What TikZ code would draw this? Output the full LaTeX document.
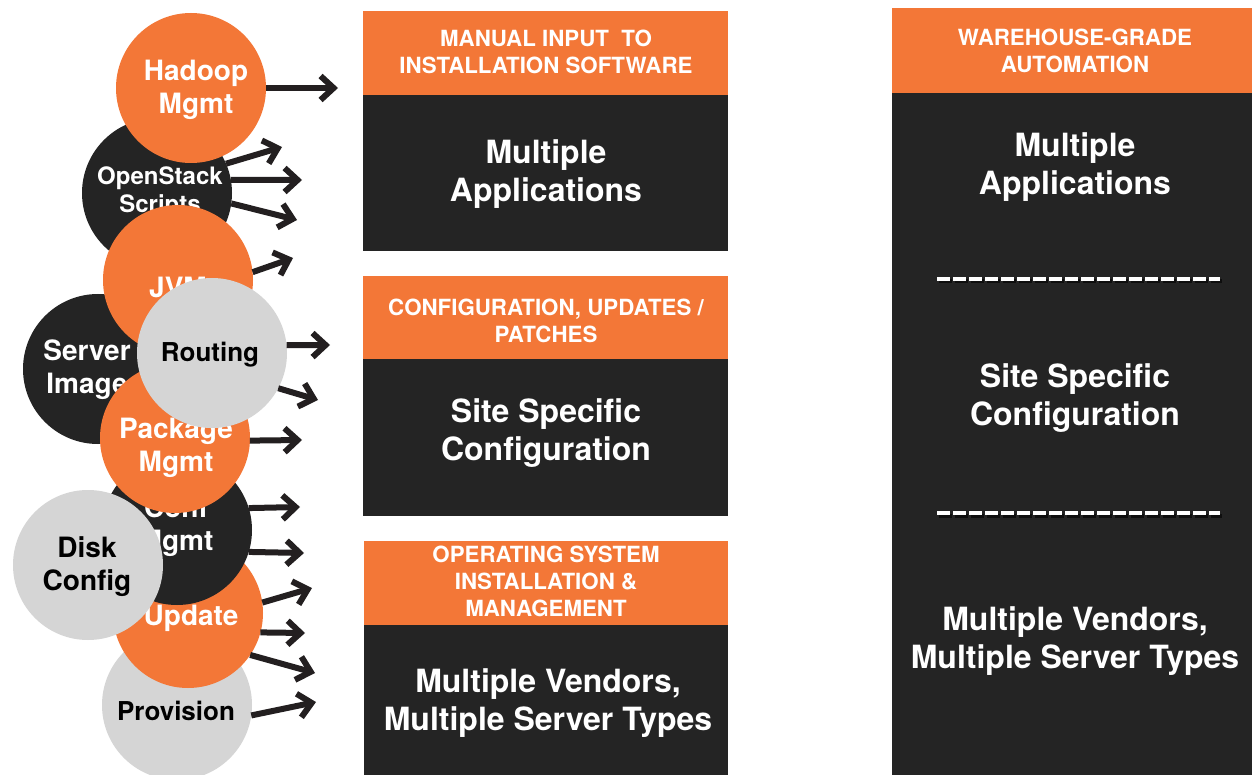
\documentclass[tikz,border=0pt]{standalone}
\usepackage{fontspec}
\setmainfont{TeX Gyre Heros}
\usetikzlibrary{arrows.meta}
\definecolor{orng}{HTML}{F37737}
\definecolor{dark}{HTML}{242424}
\definecolor{lgray}{HTML}{D5D5D5}
\definecolor{arr}{HTML}{231F20}
\tikzset{
  bub/.style={circle, minimum size=150pt, inner sep=0pt, outer sep=0pt},
  ob/.style={bub, fill=orng},
  db/.style={bub, fill=dark},
  gb/.style={bub, fill=lgray},
  ctext/.style={inner sep=0pt, align=center, font=\bfseries\fontsize{28}{33}\selectfont},
  wt/.style={ctext, text=white},
  bt/.style={ctext, text=black},
  conn/.style={draw=arr, line width=6pt, -{Straight Barb[length=13pt,width=24pt,line join=miter]}},
  hdr/.style={inner sep=0pt, font=\bfseries\fontsize{22.3}{27}\selectfont, text=white, align=center},
  bodytxt/.style={inner sep=0pt, font=\bfseries\fontsize{32}{38}\selectfont, text=white, align=center},
  dashln/.style={draw=white, line width=4pt, dash pattern=on 12.5pt off 3.5pt},
}
\begin{document}
\begin{tikzpicture}[x=1pt,y=-1pt]
\useasboundingbox (0,0) rectangle (1252,775);
\fill[white] (0,0) rectangle (1252,775);

% ---------- left panels ----------
\fill[orng] (363,11) rectangle (728,95);
\fill[dark] (363,95) rectangle (728,251);
\node[hdr] (h1) at (546,52) {MANUAL INPUT\ \ TO\\INSTALLATION SOFTWARE};
\node[bodytxt] (b1) at (546,174) {Multiple\\Applications};

\fill[orng] (363,276) rectangle (728,359);
\fill[dark] (363,359) rectangle (728,516);
\node[hdr] (h2) at (546,321) {CONFIGURATION, UPDATES /\\PATCHES};
\node[bodytxt] (b2) at (546,433) {Site Specific\\Configuration};

\fill[orng] (364,541) rectangle (728,625);
\fill[dark] (364,625) rectangle (728,775);
\node[hdr] (h3) at (546,581) {OPERATING SYSTEM\\INSTALLATION \&\\MANAGEMENT};
\node[bodytxt] (b3) at (548,703) {Multiple Vendors,\\Multiple Server Types};

% ---------- right panel ----------
\fill[orng] (892,8) rectangle (1252,93);
\fill[dark] (892,93) rectangle (1252,775);
\node[hdr] (h4) at (1075,51) {WAREHOUSE-GRADE\\AUTOMATION};
\node[bodytxt] (b4) at (1075,167) {Multiple\\Applications};
\node[bodytxt] (b5) at (1075,398) {Site Specific\\Configuration};
\node[bodytxt] (b6) at (1075,641) {Multiple Vendors,\\Multiple Server Types};
\draw[dashln, draw=black, opacity=0.6] (939,281.5) -- (1222,281.5);
\draw[dashln] (937,279) -- (1220,279);
\draw[dashln, draw=black, opacity=0.6] (939,515.5) -- (1222,515.5);
\draw[dashln] (937,513) -- (1220,513);

% ---------- circles (back to front) ----------
\node[db] (os) at (157,193) {};
\node[wt, font=\bfseries\fontsize{24}{28}\selectfont] (osT) at (160,192) {OpenStack\\Scripts};
\node[ob] (hadoop) at (191,88) {};
\node[wt] (hadoopT) at (196,90) {Hadoop\\Mgmt};
\node[db] (server) at (98,369) {};
\node[wt] (serverT) at (87,370) {Server\\Image};
\node[ob] (jvm) at (178,280) {};
\node[wt] (jvmT) at (178,287) {JVM};
\node[gb] (prov) at (177,705) {};
\node[bt, font=\bfseries\fontsize{26}{31}\selectfont] (provT) at (176,711) {Provision};
\node[ob] (upd) at (188,613) {};
\node[wt] (updT) at (191,618) {Update};
\node[db] (conf) at (177,530) {};
\node[wt] (confT) at (176,527) {Conf\\Mgmt};
\node[ob] (pkg) at (175,438) {};
\node[wt] (pkgT) at (176,448) {Package\\Mgmt};
\node[gb] (rout) at (212,353) {};
\node[bt, font=\bfseries\fontsize{26}{31}\selectfont] (routT) at (210,355) {Routing};
\node[gb] (disk) at (88,565) {};
\node[bt] (diskT) at (87,567) {Disk\\Config};

% ---------- arrow tips ----------
\coordinate (t1) at (338,88);
\coordinate (t2) at (282,147);
\coordinate (t3) at (302,180);
\coordinate (t4) at (297,220);
\coordinate (t5) at (293,258);
\coordinate (t6) at (330,345);
\coordinate (t7) at (318,400);
\coordinate (t8) at (302,440);
\coordinate (t9) at (300,507);
\coordinate (t10) at (304,553);
\coordinate (t11) at (312,588);
\coordinate (t12) at (305,633);
\coordinate (t13) at (315,673);
\coordinate (t14) at (316,702);

% ---------- arrows ----------
\draw[conn] (hadoop.0) -- (t1);
\draw[conn] (os.23) -- (t2);
\draw[conn] (os.10) -- (t3);
\draw[conn] (os.-8) -- (t4);
\draw[conn] (jvm.6) -- (t5);
\draw[conn] (rout.6) -- (t6);
\draw[conn] (rout.-28) -- (t7);
\draw[conn] (pkg.-2) -- (t8);
\draw[conn] (conf.17) -- (t9);
\draw[conn] (conf.-17) -- (t10);
\draw[conn] (upd.8) -- (t11);
\draw[conn] (upd.-15) -- (t12);
\draw[conn] (upd.-34) -- (t13);
\draw[conn] (prov.-8) -- (t14);
\end{tikzpicture}
\end{document}
